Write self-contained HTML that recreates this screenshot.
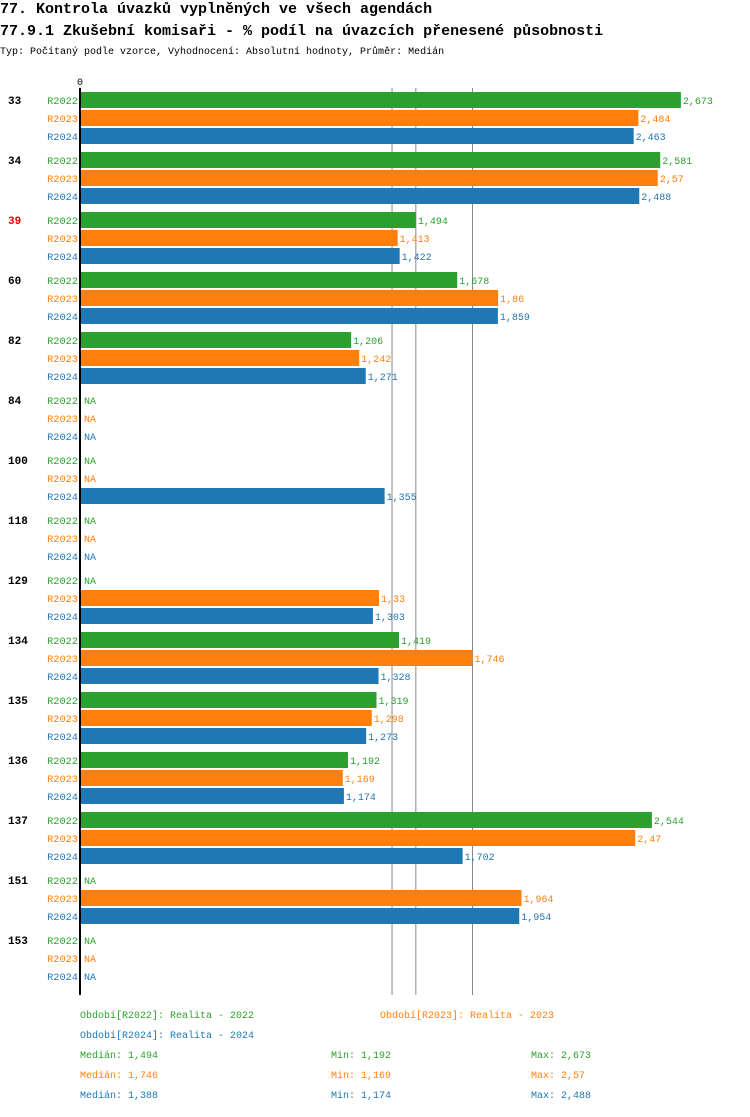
<!DOCTYPE html>
<html><head><meta charset="utf-8"><style>
body{margin:0;background:#fff;width:750px;height:1112px;overflow:hidden;font-family:"Liberation Mono",monospace;}
svg text{font-family:"Liberation Mono",monospace;}
</style></head><body>
<svg id="c" width="750" height="1112">
<text x="0" y="13" font-size="15" font-weight="bold">77. Kontrola úvazků vyplněných ve všech agendách</text>
<text x="0" y="35" font-size="15" font-weight="bold">77.9.1 Zkušební komisaři - % podíl na úvazcích přenesené působnosti</text>
<text x="0" y="54" font-size="10">Typ: Počítaný podle vzorce, Vyhodnocení: Absolutní hodnoty, Průměr: Medián</text>
</svg>
<script>
const categories=["33","34","39","60","82","84","100","118","129","134","135","136","137","151","153"];
const highlight=["39"];
const series=["R2022","R2023","R2024"];
const colors=["#2ca02c","#ff7f0e","#1f77b4"];
const r2022=[2.673,2.581,1.494,1.678,1.206,null,null,null,null,1.419,1.319,1.192,2.544,null,null];
const r2023=[2.484,2.57,1.413,1.86,1.242,null,null,null,1.33,1.746,1.298,1.169,2.47,1.964,null];
const r2024=[2.463,2.488,1.422,1.859,1.271,null,1.355,null,1.303,1.328,1.273,1.174,1.702,1.954,null];
const medians=[1.494,1.746,1.388];
const mins=[1.192,1.169,1.174];
const maxs=[2.673,2.57,2.488];
const legendNames=["Realita - 2022","Realita - 2023","Realita - 2024"];
const vals=[r2022,r2023,r2024];
const NS="http://www.w3.org/2000/svg";
const svg=document.getElementById('c');
const x0=80,k=224.8;
const X=v=>x0+v*k;
const gy=i=>92+i*60;
function el(t,a,txt){const e=document.createElementNS(NS,t);for(const p in a)e.setAttribute(p,a[p]);if(txt!=null)e.textContent=txt;svg.appendChild(e);return e;}
medians.forEach((m,s)=>{
 const l=el('line',{x1:X(m),x2:X(m),y1:88,y2:995,stroke:'#888','stroke-width':1});
 
 
});
categories.forEach((c,i)=>{
 const t=el('text',{x:8,y:gy(i)+12,'font-size':11,'font-weight':'bold',fill:highlight.includes(c)?'#e00':'#000'},c);
 
 
 series.forEach((s,j)=>{
  const y=gy(i)+j*18;
  const lb=el('text',{x:78,y:y+12,'font-size':10.3,'text-anchor':'end',fill:colors[j]},s);
  
  
  const v=vals[j][i];
  if(v==null){
   const na=el('text',{x:84,y:y+12,'font-size':10,fill:colors[j]},'NA');
   
   
  }else{
   const r=el('rect',{x:81,y:y,width:X(v)-81,height:16,fill:colors[j]});
   
   
   const vt=el('text',{x:X(v)+2,y:y+12,'font-size':10,fill:colors[j]},String(v).replace('.',','));
   
   
  }
 });
});
const ax=el('line',{x1:80,x2:80,y1:88,y2:995,stroke:'#000','stroke-width':2});


const zt=el('text',{x:80,y:85,'font-size':10,'text-anchor':'middle'},'0');


const lpos=[[80,1018],[380,1018],[80,1038]];
series.forEach((s,j)=>{
 const t=el('text',{x:lpos[j][0],y:lpos[j][1],'font-size':10,fill:colors[j]},'Období['+s+']: '+legendNames[j]);
 
 
 const y=1058+j*20;
 const a=el('text',{x:80,y:y,'font-size':10,fill:colors[j]},'Medián: '+String(medians[j]).replace('.',','));
 
 
 const b=el('text',{x:331,y:y,'font-size':10,fill:colors[j]},'Min: '+String(mins[j]).replace('.',','));
 
 
 const d=el('text',{x:531,y:y,'font-size':10,fill:colors[j]},'Max: '+String(maxs[j]).replace('.',','));
 
 
});
</script>
</body></html>
